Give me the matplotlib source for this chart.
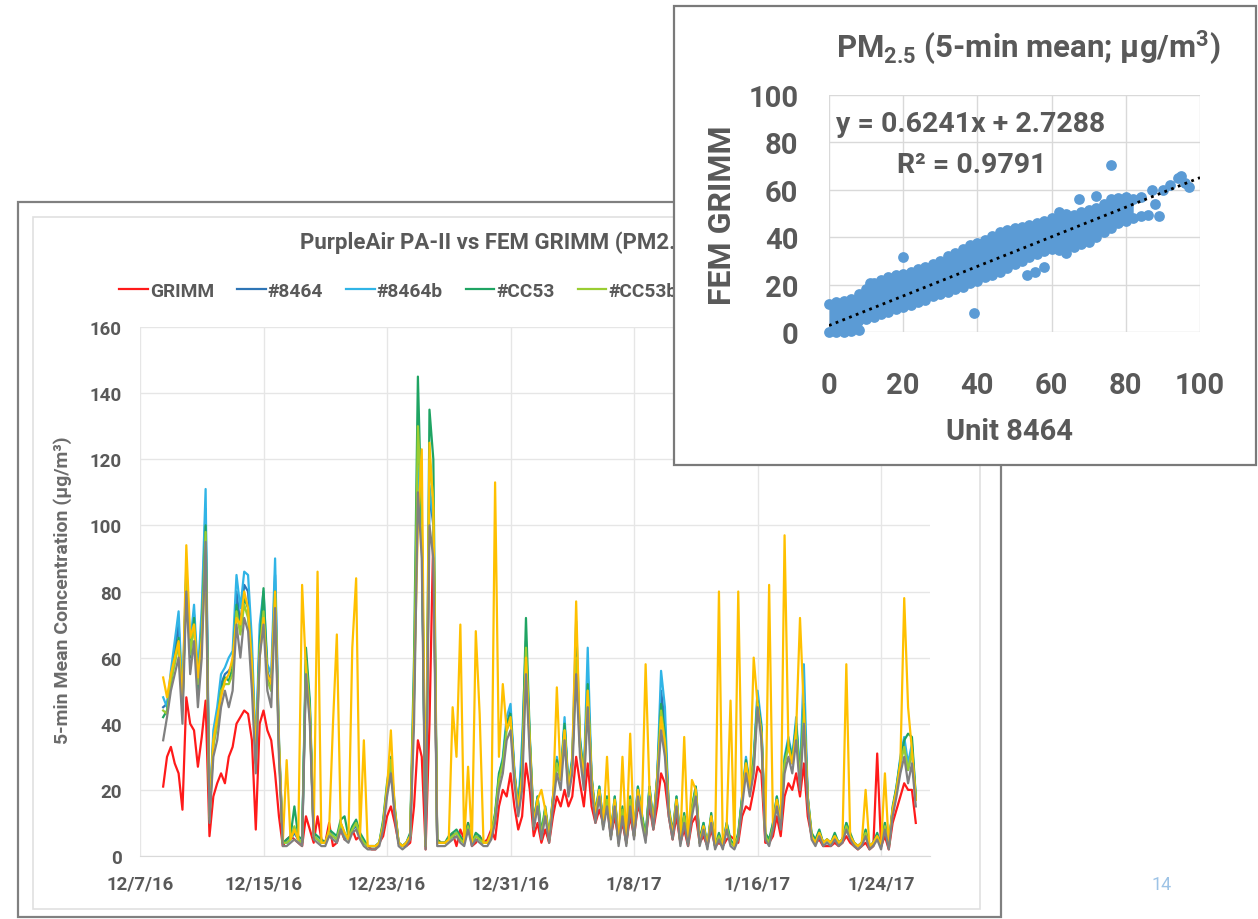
import matplotlib
matplotlib.use("Agg")
import matplotlib.pyplot as plt
import matplotlib.dates as mdates
from matplotlib.patches import Rectangle
import numpy as np
import pandas as pd

plt.rcParams['font.family'] = ['Roboto', 'DejaVu Sans']
plt.rcParams['mathtext.fontset'] = 'custom'
plt.rcParams['mathtext.rm'] = 'Roboto:bold'
plt.rcParams['mathtext.bf'] = 'Roboto:bold'
plt.rcParams['mathtext.it'] = 'Roboto:bold:italic'

# ---------------- time series data (6-hourly readings, from 12/8/16 12:00) ----------------
series_start = "2016-12-08 12:00"
series_freq = "6h"

grimm = [21, 30,
         33, 28, 25, 14,  48, 40, 38, 27,  36, 47, 6, 18,  22, 25, 22, 30,
         33, 40, 42, 44,  43, 35, 8, 40,  44, 38, 35, 25,  12, 3, 5, 6,
         5, 4, 3, 12,  8, 4, 12, 5,  4, 10, 3, 4,  8, 5, 6, 8,
         5, 6, 4, 3,  2, 2, 4, 6,  12, 15, 10, 4,  3, 3, 4, 15,
         35, 30, 2, 40,  98, 5, 4, 4,  5, 7, 3, 8,  5, 10, 3, 4,
         6, 4, 5, 8,  5, 15, 20, 18,  25, 15, 8, 12,  28, 20, 6, 10,
         4, 8, 4, 12,  18, 15, 20, 15,  18, 30, 22, 15,  28, 15, 10, 14,
         10, 15, 6, 12,  5, 10, 4, 12,  6, 15, 12, 5,  15, 8, 15, 25,
         22, 12, 5, 12,  4, 8, 3, 10,  12, 4, 6, 3,  8, 3, 4, 3,
         5, 6, 5, 4,  12, 15, 14, 20,  27, 25, 4, 4,  6, 12, 6, 18,
         22, 20, 25, 18,  28, 12, 6, 4,  5, 3, 3, 3,  4, 3, 4, 6,
         4, 3, 2, 3,  4, 2, 3, 31,  3, 6, 2, 10,  14, 18, 22, 20,
         20, 10]

pa_8464 = [45, 46,
           54, 62, 70, 46,  85, 62, 73, 52,  70, 105, 12, 36,  42, 52, 55, 56,
           58, 80, 70, 82,  80, 60, 30, 66,  76, 56, 52, 85,  34, 4, 4, 5,
           7, 5, 4, 58,  43, 6, 5, 4,  4, 7, 6, 5,  9, 6, 5, 8,
           9, 6, 4, 3,  3, 3, 4, 9,  20, 28, 13, 4,  3, 4, 6, 48,
           120, 100, 3, 110,  100, 4, 4, 4,  5, 6, 7, 5,  4, 9, 4, 6,
           5, 4, 4, 6,  12, 23, 28, 40,  44, 25, 14, 30,  62, 34, 9, 17,
           6, 14, 5, 17,  28, 23, 40, 20,  28, 65, 34, 23,  55, 23, 12, 20,
           9, 17, 6, 17,  4, 14, 4, 17,  6, 20, 12, 5,  20, 9, 23, 50,
           40, 14, 6, 17,  4, 12, 4, 14,  20, 4, 9, 3,  12, 3, 6, 3,
           9, 4, 3, 6,  17, 28, 20, 28,  48, 38, 6, 4,  9, 17, 9, 28,
           34, 28, 40, 23,  50, 17, 6, 4,  7, 4, 5, 4,  6, 4, 5, 9,
           6, 4, 3, 4,  7, 3, 4, 6,  3, 9, 3, 14,  20, 28, 34, 26,
           32, 17]

pa_8464b = [48, 45,
            56, 65, 74, 48,  88, 64, 76, 55,  75, 111, 13, 38,  45, 55, 57, 60,
            62, 85, 75, 86,  85, 65, 32, 70,  80, 58, 55, 90,  36, 4, 4, 5,
            8, 5, 4, 60,  45, 6, 5, 4,  4, 7, 6, 5,  10, 6, 5, 8,
            10, 6, 4, 3,  3, 3, 4, 10,  20, 28, 14, 4,  3, 4, 6, 50,
            118, 98, 3, 112,  102, 4, 4, 4,  5, 6, 7, 5,  4, 9, 4, 6,
            5, 4, 4, 6,  12, 24, 30, 42,  46, 26, 14, 35,  65, 35, 10, 18,
            6, 14, 5, 18,  30, 24, 42, 21,  30, 71, 36, 24,  63, 24, 12, 21,
            10, 18, 6, 18,  4, 14, 4, 18,  6, 21, 12, 5,  21, 10, 24, 56,
            45, 14, 6, 18,  4, 12, 4, 14,  21, 4, 10, 3,  12, 3, 6, 3,
            10, 4, 3, 6,  18, 30, 21, 30,  50, 40, 6, 4,  10, 18, 10, 30,
            36, 30, 42, 24,  58, 18, 6, 4,  7, 4, 5, 4,  6, 4, 5, 10,
            6, 4, 3, 4,  7, 3, 4, 6,  3, 10, 3, 14,  21, 30, 36, 28,
            34, 18]

pa_cc53 = [42, 44,
           52, 60, 66, 44,  86, 60, 72, 50,  68, 100, 12, 34,  40, 50, 54, 53,
           57, 76, 68, 78,  75, 57, 29, 64,  81, 55, 50, 80,  33, 4, 5, 6,
           15, 6, 5, 63,  47, 7, 6, 5,  4, 8, 7, 6,  11, 12, 6, 9,
           11, 7, 5, 3,  3, 3, 4, 11,  22, 30, 15, 4,  3, 4, 7, 60,
           145, 100, 3, 135,  120, 5, 4, 4,  6, 7, 8, 6,  4, 10, 4, 7,
           6, 4, 4, 7,  13, 25, 29, 40,  43, 25, 15, 28,  72, 36, 10, 18,
           7, 15, 6, 18,  29, 24, 40, 21,  29, 63, 35, 24,  52, 24, 13, 21,
           10, 18, 7, 18,  5, 15, 4, 18,  7, 21, 13, 6,  21, 10, 24, 46,
           37, 15, 7, 18,  5, 13, 4, 15,  21, 5, 10, 3,  13, 3, 7, 3,
           10, 5, 3, 7,  18, 29, 21, 29,  47, 39, 7, 5,  10, 18, 10, 29,
           35, 29, 40, 24,  46, 18, 7, 5,  8, 4, 5, 4,  7, 4, 5, 10,
           7, 4, 3, 4,  8, 3, 4, 7,  3, 10, 3, 15,  21, 29, 35, 37,
           36, 18]

pa_cc53b = [44, 43,
            53, 58, 64, 45,  84, 61, 70, 52,  66, 98, 11, 33,  40, 50, 52, 52,
            55, 74, 67, 76,  72, 56, 28, 62,  74, 53, 50, 78,  32, 4, 4, 5,
            9, 5, 4, 59,  44, 6, 5, 4,  4, 7, 6, 5,  10, 7, 5, 8,
            10, 6, 4, 3,  3, 3, 4, 10,  21, 29, 14, 4,  3, 4, 6, 52,
            130, 105, 3, 120,  108, 4, 4, 4,  5, 6, 7, 5,  4, 9, 4, 6,
            5, 4, 4, 6,  12, 23, 28, 38,  41, 24, 14, 25,  63, 34, 9, 17,
            6, 14, 5, 17,  28, 23, 38, 20,  28, 60, 33, 23,  50, 23, 12, 20,
            9, 17, 6, 17,  4, 14, 4, 17,  6, 20, 12, 5,  20, 9, 23, 44,
            35, 14, 6, 17,  4, 12, 4, 14,  20, 4, 9, 3,  12, 3, 6, 3,
            9, 4, 3, 6,  17, 28, 20, 28,  46, 37, 6, 4,  9, 17, 9, 28,
            33, 28, 38, 23,  44, 17, 6, 4,  7, 4, 5, 4,  6, 4, 5, 9,
            6, 4, 3, 4,  7, 3, 4, 6,  3, 9, 3, 14,  20, 28, 33, 26,
            32, 17]

pa_5 = [54, 48,
        55, 60, 65, 46,  94, 66, 70, 54,  65, 90, 12, 35,  42, 48, 53, 55,
        60, 72, 70, 80,  75, 58, 30, 60,  72, 55, 52, 80,  35, 4, 29, 5,
        8, 5, 82, 56,  42, 6, 86, 4,  4, 8, 40, 67,  10, 7, 5, 63,
        84, 6, 35, 3,  3, 3, 4, 9,  20, 38, 14, 4,  3, 4, 6, 50,
        100, 123, 3, 125,  105, 4, 4, 4,  5, 45, 30, 70,  4, 27, 4, 68,
        43, 4, 4, 7,  113, 30, 52, 38,  42, 24, 14, 24,  60, 33, 9, 17,
        20, 14, 5, 17,  51, 23, 38, 20,  28, 77, 33, 23,  50, 23, 12, 20,
        9, 30, 6, 17,  4, 30, 4, 37,  6, 20, 12, 58,  20, 9, 23, 42,
        34, 14, 6, 17,  4, 36, 4, 23,  20, 4, 9, 3,  12, 3, 80, 3,
        9, 47, 3, 80,  17, 28, 20, 60,  46, 37, 6, 82,  9, 17, 9, 97,
        33, 28, 38, 72,  44, 17, 6, 4,  7, 4, 5, 4,  6, 4, 5, 58,
        6, 4, 3, 4,  20, 3, 4, 6,  3, 25, 3, 14,  20, 28, 78, 45,
        32, 17]

pa_5b = [35, 42,
         50, 55, 60, 40,  80, 55, 65, 45,  60, 95, 10, 30,  35, 45, 50, 45,
         50, 70, 60, 72,  68, 50, 25, 60,  70, 50, 45, 75,  30, 3, 3, 4,
         5, 4, 3, 55,  40, 5, 4, 3,  3, 6, 5, 4,  8, 5, 4, 7,
         8, 5, 3, 2,  2, 2, 3, 8,  18, 25, 12, 3,  2, 3, 5, 40,
         110, 90, 2, 100,  90, 3, 3, 3,  4, 5, 6, 4,  3, 8, 3, 5,
         4, 3, 3, 5,  10, 20, 25, 35,  38, 22, 12, 20,  55, 30, 8, 15,
         5, 12, 4, 15,  25, 20, 35, 18,  25, 55, 30, 20,  45, 20, 10, 18,
         8, 15, 5, 15,  3, 12, 3, 15,  5, 18, 10, 4,  18, 8, 20, 38,
         30, 12, 5, 15,  3, 10, 3, 12,  18, 3, 8, 2,  10, 2, 5, 2,
         8, 3, 2, 5,  15, 25, 18, 25,  45, 35, 5, 3,  8, 15, 8, 25,
         30, 25, 35, 20,  40, 15, 5, 3,  6, 3, 4, 3,  5, 3, 4, 8,
         5, 3, 2, 3,  6, 2, 3, 5,  2, 8, 2, 12,  18, 25, 30, 22,
         28, 15]

series_labels = ["GRIMM", "#8464", "#8464b", "#CC53", "#CC53b", "#PA5", "#PA5b"]

# ---------------- scatter data (PM2.5 5-min means) ----------------
band_x = [0, 2, 4, 6, 8, 10, 12, 14, 16, 18, 20, 22, 24, 26, 28, 30, 32, 34, 36, 38, 40,
          42, 44, 46, 48, 50, 52, 54, 56, 58, 60, 62, 64, 66, 68, 70, 72, 74, 76, 78, 80, 82]
band_hi = [12, 12.5, 13, 14, 16, 18, 20.5, 22, 23, 24, 24.5, 25.5, 26.5, 27.5, 28.5, 30, 32,
           33.5, 35, 36.5, 37.5, 39, 40.5, 42, 43, 44, 44.5, 45, 46, 47, 48, 50.5, 50, 49.5,
           50.5, 51.5, 52.5, 54, 56, 56.5, 57, 56]
band_lo = [0, 0, 0, 0.5, 1, 5.5, 6.5, 7.5, 8.5, 9.5, 10.5, 11.5, 12.5, 13.5, 15, 16, 17, 18,
           19, 20.5, 21.5, 23, 24, 25.5, 27, 28.5, 30, 31.5, 33, 34, 35, 34.5, 33.5, 36, 37,
           38, 40, 42, 44, 46, 47, 48]
extra_x = [20, 11, 39, 76, 72, 67.5, 58, 53.5, 55.5, 84, 86, 88, 89, 90, 92, 94, 95, 96, 97, 87, 84]
extra_y = [31.5, 20.5, 8, 70.5, 57.5, 56, 27.5, 24, 25.5, 49, 49.5, 54, 49, 60, 62, 65, 66, 63, 61, 60, 57]
slope, intercept, r2 = 0.6241, 2.7288, 0.9791

# ---------------- layout ----------------
W, H = 1258, 920
fig = plt.figure(figsize=(W / 100, H / 100), dpi=100)
fig.patch.set_facecolor("white")
TXT = "#595959"


def box(l, t, r, b):
    return [l / W, 1 - b / H, (r - l) / W, (b - t) / H]


# main panel background
ax_bg = fig.add_axes(box(18, 203, 1001, 918))
ax_bg.set_zorder(0)
ax_bg.axis("off")
ax_bg.add_patch(Rectangle((0, 0), 1, 1, transform=ax_bg.transAxes, facecolor="white",
                          edgecolor="#808080", lw=1.6, clip_on=False))
ax_bg.add_patch(Rectangle((33 / W, 1 - 910 / H), 947 / W, 692 / H, transform=fig.transFigure,
                          facecolor="none", edgecolor="#e0e0e0", lw=1.2, clip_on=False))

# time series
ax = fig.add_axes(box(140, 328, 930, 857))
ax.set_zorder(1)
times = pd.date_range(series_start, periods=len(grimm), freq=series_freq)
colors = ["#FF1A1A", "#2E75B6", "#30B4E6", "#1FA463", "#9ACD32", "#FFC000", "#808080"]
all_series = [grimm, pa_8464, pa_8464b, pa_cc53, pa_cc53b, pa_5, pa_5b]
handles = []
for vals, col, lab in zip(all_series, colors, series_labels):
    assert len(vals) == len(times)
    h, = ax.plot(times, vals, color=col, lw=1.6, label=lab)
    handles.append(h)

t0 = pd.Timestamp("2016-12-07")
ax.set_xlim(t0, t0 + pd.Timedelta(days=51.17))
ax.set_ylim(0, 160)
ax.set_yticks(np.arange(0, 161, 20))
ax.set_xticks(pd.date_range(t0, periods=7, freq="8D"))
ax.xaxis.set_major_formatter(plt.FuncFormatter(
    lambda v, p: (lambda d: f"{d.month}/{d.day}/{d.strftime('%y')}")(mdates.num2date(v))))
ax.grid(color="#e6e6e6", lw=1)
ax.set_axisbelow(True)
for s in ["top", "right", "left"]:
    ax.spines[s].set_visible(False)
ax.spines["bottom"].set_color("#d9d9d9")
ax.tick_params(length=0, labelsize=13.5, labelcolor=TXT)
ax.tick_params(axis="x", pad=13)
ax.tick_params(axis="y", pad=13)
for lab in ax.get_xticklabels() + ax.get_yticklabels():
    lab.set_fontweight("bold")

ax.text(300 / W, 1 - 243 / H, "PurpleAir PA-II vs FEM GRIMM (PM2.5)", transform=fig.transFigure,
        ha="left", va="center", fontsize=16, fontweight="bold", color=TXT)
ax.text(63 / W, 1 - 590 / H, "5-min Mean Concentration (µg/m³)", transform=fig.transFigure,
        rotation=90, ha="center", va="center", fontsize=14, fontweight="bold", color="#6b6b6b")
# only the first five entries are visible; the rest sits under the inset panel
leg = ax.legend(handles=handles[:5], loc="center left", bbox_to_anchor=(119 / W, 1 - 292 / H),
                bbox_transform=fig.transFigure, ncol=5, frameon=False, handlelength=1.5,
                handletextpad=0.1, columnspacing=1.2, borderpad=0, borderaxespad=0,
                prop={"weight": "bold", "size": 13.8})
for t in leg.get_texts():
    t.set_color(TXT)

# inset panel
ax_in = fig.add_axes(box(674, 7, 1256, 466))
ax_in.set_zorder(2)
ax_in.axis("off")
ax_in.add_patch(Rectangle((0, 0), 1, 1, transform=ax_in.transAxes, facecolor="white",
                          edgecolor="#7a7a7a", lw=1.6, clip_on=False))

ax2 = fig.add_axes(box(829, 96, 1200, 333))
ax2.set_zorder(3)
blue = "#5B9BD5"
ax2.fill_between(band_x, band_lo, band_hi, color=blue, lw=0, zorder=2)
ax2.scatter(band_x + band_x, band_lo + band_hi, s=60, color=blue, lw=0, zorder=2, clip_on=False)
ax2.scatter(extra_x, extra_y, s=60, color=blue, lw=0, zorder=2)
fit_x = np.array([0, 100])
ax2.plot(fit_x, slope * fit_x + intercept, color="black", ls=(0, (1, 1.6)), lw=2, zorder=3)
ax2.set_xlim(0, 100)
ax2.set_ylim(0, 100)
ax2.set_xticks(np.arange(0, 101, 20))
ax2.set_yticks(np.arange(0, 101, 20))
ax2.grid(color="#d9d9d9", lw=1)
ax2.set_axisbelow(True)
for s in ax2.spines.values():
    s.set_visible(False)
ax2.tick_params(length=0, labelsize=21, labelcolor=TXT)
ax2.tick_params(axis="x", pad=28)
ax2.tick_params(axis="y", pad=22)
for lab in ax2.get_xticklabels() + ax2.get_yticklabels():
    lab.set_fontweight("bold")

ax2.text(1028 / W, 1 - 48 / H, r"PM$_{\mathrm{2.5}}$ (5-min mean; µg/m$^{\mathrm{3}}$)",
         transform=fig.transFigure, ha="center", va="center", fontsize=22.5, fontweight="bold", color=TXT)
ax2.text(971 / W, 1 - 125 / H, f"y = {slope}x + {intercept}", transform=fig.transFigure,
         ha="center", va="center", fontsize=20.5, fontweight="bold", color=TXT)
ax2.text(972 / W, 1 - 166 / H, f"R² = {r2}", transform=fig.transFigure,
         ha="center", va="center", fontsize=20.5, fontweight="bold", color=TXT)
ax2.text(1010 / W, 1 - 432 / H, "Unit 8464", transform=fig.transFigure,
         ha="center", va="center", fontsize=21, fontweight="bold", color=TXT)
ax2.text(722 / W, 1 - 215 / H, "FEM GRIMM", transform=fig.transFigure, rotation=90,
         ha="center", va="center", fontsize=23, fontweight="bold", color=TXT)

fig.text(1162 / W, 1 - 885 / H, "14", ha="center", va="center", fontsize=13, color="#9DC3E6")

fig.savefig("out.png", dpi=100)
